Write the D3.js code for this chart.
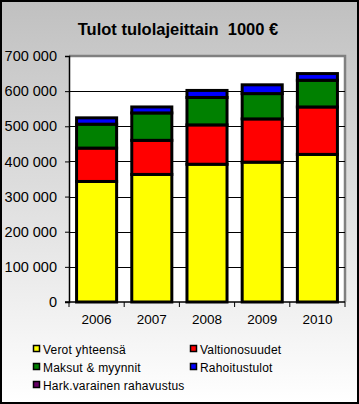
<!DOCTYPE html>
<html><head><meta charset="utf-8">
<script src="https://cdn.jsdelivr.net/npm/d3@7"></script>
<style>body{margin:0;background:#fff}svg{display:block;font-family:Arial,"Liberation Sans",sans-serif}</style>
</head><body>
<script>
const years = ["2006","2007","2008","2009","2010"];
const seriesNames = ["Verot yhteensä","Valtionosuudet","Maksut & myynnit","Rahoitustulot","Hark.varainen rahavustus"];
const seriesColors = ["#ffff00","#ff0000","#008000","#0000ff","#660066"];
const verot = [343000, 363000, 392000, 398000, 420000];
const valtionosuudet = [95000, 97000, 112000, 123000, 135000];
const maksut = [68000, 78000, 78000, 72000, 76000];
const rahoitus = [18000, 17000, 20000, 25000, 19000];
const hark = [0, 0, 0, 0, 0];
const yTicks = [0,100000,200000,300000,400000,500000,600000,700000];
const title = "Tulot tulolajeittain  1000 €";

const W=359,H=404;
const svg=d3.select("body").append("svg").attr("width",W).attr("height",H);
const defs=svg.append("defs");
const g=defs.append("linearGradient").attr("id","bg").attr("x1",0).attr("y1",0).attr("x2",0).attr("y2",1);
g.append("stop").attr("offset","0%").attr("stop-color","#c0c0c0");
g.append("stop").attr("offset","100%").attr("stop-color","#ffffff");
svg.append("rect").attr("x",1).attr("y",1).attr("width",W-2).attr("height",H-2).attr("fill","url(#bg)").attr("stroke","#000").attr("stroke-width",2);

svg.append("text").attr("x",178).attr("y",35).attr("text-anchor","middle").attr("font-weight","bold")
  .attr("font-size",16.5).style("white-space","pre").text(title);

const pl=69,pr=345,pt=56,pb=302;
const x=d3.scaleBand().domain(years).range([pl,pr]).paddingInner(0.22).paddingOuter(0.11);
const y=d3.scaleLinear().domain([0,700000]).range([pb,pt]);

// plot area
svg.append("rect").attr("x",pl).attr("y",pt).attr("width",pr-pl).attr("height",pb-pt).attr("fill","#fff");
svg.append("path").attr("d",`M${pl},${pt}H${pr}V${pb}`).attr("fill","none").attr("stroke","#808080").attr("stroke-width",2.5);

// gridlines
svg.append("g").selectAll("line").data(yTicks.filter(d=>d>0&&d<700000)).join("line")
  .attr("x1",pl).attr("x2",pr).attr("y1",d=>Math.round(y(d))+0.5).attr("y2",d=>Math.round(y(d))+0.5)
  .attr("stroke","#000").attr("stroke-width",1);

// stacked bars
const data = years.map((yr,i)=>({year:yr,s0:verot[i],s1:valtionosuudet[i],s2:maksut[i],s3:rahoitus[i],s4:hark[i]}));
const stack=d3.stack().keys(["s0","s1","s2","s3","s4"])(data);
stack.forEach((layer,k)=>{
  svg.append("g").selectAll("rect").data(layer.filter(d=>d[1]-d[0]>0)).join("rect")
    .attr("x",d=>x(d.data.year)+1.5).attr("width",x.bandwidth()-3)
    .attr("y",d=>y(d[1])).attr("height",d=>y(d[0])-y(d[1]))
    .attr("fill",seriesColors[k]).attr("stroke","#000").attr("stroke-width",3);
});

// y axis
const ya=d3.axisLeft(y).tickValues(yTicks).tickSize(4).tickPadding(8)
  .tickFormat(d=>d3.format(",")(d).replace(/,/g," "));
const yg=svg.append("g").attr("transform",`translate(${pl},0)`).call(ya);
yg.select(".domain").attr("stroke","#000").attr("stroke-width",1.5);
yg.selectAll("text").attr("font-size",14.5).attr("fill","#000").attr("font-family","Arial,'Liberation Sans',sans-serif");

// x axis
const xa=d3.axisBottom(x).tickSize(0).tickPadding(12);
const xg=svg.append("g").attr("transform",`translate(0,${pb})`).call(xa);
xg.select(".domain").remove();
xg.selectAll("text").attr("font-size",13.5).attr("fill","#000").attr("font-family","Arial,'Liberation Sans',sans-serif");
svg.append("line").attr("x1",pl-4).attr("x2",pr).attr("y1",pb).attr("y2",pb).attr("stroke","#000").attr("stroke-width",1.5);
svg.append("g").selectAll("line").data(d3.range(years.length+1)).join("line")
  .attr("x1",i=>pl+i*(pr-pl)/years.length).attr("x2",i=>pl+i*(pr-pl)/years.length)
  .attr("y1",pb).attr("y2",pb+5).attr("stroke","#000").attr("stroke-width",1);

// legend
const legPos=[[33,350],[190,350],[33,368],[190,368],[33,386]];
const lg=svg.append("g").selectAll("g").data(seriesNames).join("g")
  .attr("transform",(d,i)=>`translate(${legPos[i][0]},${legPos[i][1]})`);
lg.append("rect").attr("x",0.5).attr("y",-4.5).attr("width",6).attr("height",6)
  .attr("fill",(d,i)=>seriesColors[i]).attr("stroke","#000").attr("stroke-width",1.5);
lg.append("text").attr("x",10).attr("y",3.5).attr("font-size",12).attr("letter-spacing",0.2).text(d=>d);
</script>
</body></html>
